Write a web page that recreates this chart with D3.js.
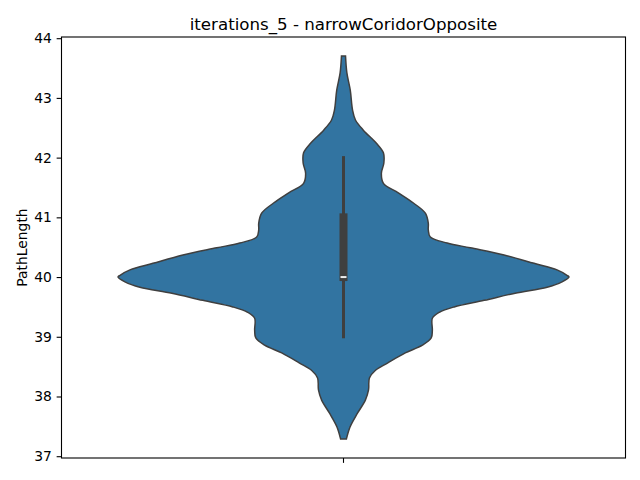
<!DOCTYPE html>
<html>
<head>
<meta charset="utf-8">
<script src="https://cdn.jsdelivr.net/npm/d3@7/dist/d3.min.js"></script>
<style>
html,body{margin:0;padding:0;background:#fff}
svg{display:block}
text{font-family:"DejaVu Sans",sans-serif;fill:#000}
</style>
</head>
<body>
<svg id="c" width="640" height="480"></svg>
<script>
const chartTitle = "iterations_5 - narrowCoridorOpposite";
const yLabel = "PathLength";
const yTicks = [37,38,39,40,41,42,43,44];
const pathLength = [43.70,43.42,43.13,42.80,42.63,42.46,42.24,42.08,41.91,41.74,41.57,41.41,41.24,41.07,40.90,40.79,40.67,40.57,40.49,40.37,40.23,40.12,40.03,40.00,39.92,39.83,39.73,39.61,39.50,39.41,39.31,39.11,38.98,38.86,38.73,38.56,38.44,38.31,38.11,37.94,37.72,37.49,37.29];
const density = [.009,.015,.030,.040,.053,.088,.146,.177,.179,.168,.177,.243,.310,.363,.376,.376,.385,.460,.562,.712,.845,.947,.991,1,.969,.903,.761,.624,.491,.425,.394,.394,.389,.350,.274,.195,.142,.115,.111,.097,.062,.029,.013];
const whisker = [39,42];
const quartiles = [40,41];
const median = 40;

const svg = d3.select("#c");
const L=61.5,R=625.5,T=37,B=458;
const y = d3.scaleLinear().domain([36.97,44.02]).range([B,T]);
const xBand = d3.scaleBand().domain([0]).range([L,R]);
const cx = xBand(0)+xBand.bandwidth()/2;
const w = d3.scaleLinear().domain([-1,1]).range([cx-225.5,cx+225.5]);
const pts = d3.range(pathLength.length);

svg.append("path")
  .attr("d", d3.area().curve(d3.curveCatmullRom.alpha(0.5))
    .y(i=>y(pathLength[i])).x0(i=>w(-density[i])).x1(i=>w(density[i]))(pts)+"")
  .attr("fill","#3274a1").attr("stroke","#3f3f3f").attr("stroke-width",1.5);

svg.append("line").attr("x1",cx).attr("x2",cx).attr("y1",y(whisker[0])).attr("y2",y(whisker[1]))
  .attr("stroke","#3f3f3f").attr("stroke-width",3).attr("stroke-linecap","square");
svg.append("line").attr("x1",cx).attr("x2",cx).attr("y1",y(quartiles[0])).attr("y2",y(quartiles[1]))
  .attr("stroke","#3f3f3f").attr("stroke-width",8).attr("stroke-linecap","square");
svg.append("line").attr("x1",cx-3).attr("x2",cx+3).attr("y1",y(median)).attr("y2",y(median))
  .attr("stroke","#ececec").attr("stroke-width",2);

const ax = svg.append("g").attr("transform",`translate(${L},0)`)
  .call(d3.axisLeft(y).tickValues(yTicks).tickFormat(d3.format("d")).tickSize(4.86).tickPadding(4.8));
ax.select(".domain").remove();
ax.selectAll("line").attr("stroke","#000").attr("stroke-width",1.1);
ax.selectAll("text").attr("font-size",13.89).attr("font-family",'"DejaVu Sans"').attr("fill","#000");

const ax2 = svg.append("g").attr("transform",`translate(0,${B})`)
  .call(d3.axisBottom(xBand).tickFormat("").tickSize(4.86));
ax2.select(".domain").remove();
ax2.selectAll("line").attr("stroke","#000").attr("stroke-width",1.1);

svg.append("rect").attr("x",L).attr("y",T).attr("width",R-L).attr("height",B-T)
  .attr("fill","none").attr("stroke","#000").attr("stroke-width",1.1);

svg.append("text").attr("x",cx).attr("y",29.5).attr("text-anchor","middle").attr("font-size",16.67).text(chartTitle);
svg.append("text").attr("transform",`translate(26.5,${(T+B)/2}) rotate(-90)`).attr("text-anchor","middle").attr("font-size",13.89).text(yLabel);
</script>
</body>
</html>
